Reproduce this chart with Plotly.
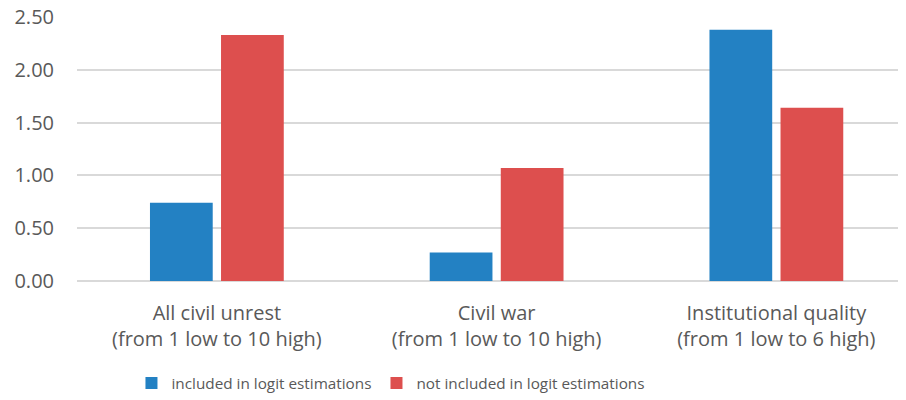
import plotly.graph_objects as go

categorias = ["All civil unrest<br>(from 1 low to 10 high)",
              "Civil war<br>(from 1 low to 10 high)",
              "Institutional quality<br>(from 1 low to 6 high)"]
incluidos = [0.74, 0.27, 2.38]
nao_incluidos = [2.33, 1.07, 1.64]

fig = go.Figure()
fig.add_trace(go.Bar(x=categorias, y=incluidos, name="included in logit estimations",
                     marker_color="#2381C3", marker_line_width=0))
fig.add_trace(go.Bar(x=categorias, y=nao_incluidos, name="not included in logit estimations",
                     marker_color="#DD4F4E", marker_line_width=0))

# a pagina tem margem de 8px no body
fig.update_layout(
    width=906, height=400,
    margin=dict(l=69, r=0, t=9, b=127),
    plot_bgcolor="white", paper_bgcolor="white",
    font=dict(family="Open Sans, Liberation Sans, sans-serif", size=20, color="#595959"),
    barmode="group", bargap=0.492, bargroupgap=0.117,
    legend=dict(orientation="h", x=0.4227, xanchor="center", xref="container",
                y=0.0625, yanchor="middle", yref="container",
                font=dict(size=15.3), itemwidth=30, traceorder="normal"),
)
fig.update_yaxes(range=[0, 2.5], dtick=0.5, tickformat=".2f", showgrid=True,
                 gridcolor="#D9D9D9", gridwidth=1.5, zeroline=True, zerolinecolor="#D9D9D9",
                 zerolinewidth=2, ticks="", ticklabelstandoff=22, automargin=False,
                 tickfont=dict(size=20), ticklabeloverflow="allow")
fig.update_xaxes(range=[-0.5, 2.492], showline=False, ticks="", ticklabelstandoff=18,
                 automargin=False)

fig.write_html("out.html")
